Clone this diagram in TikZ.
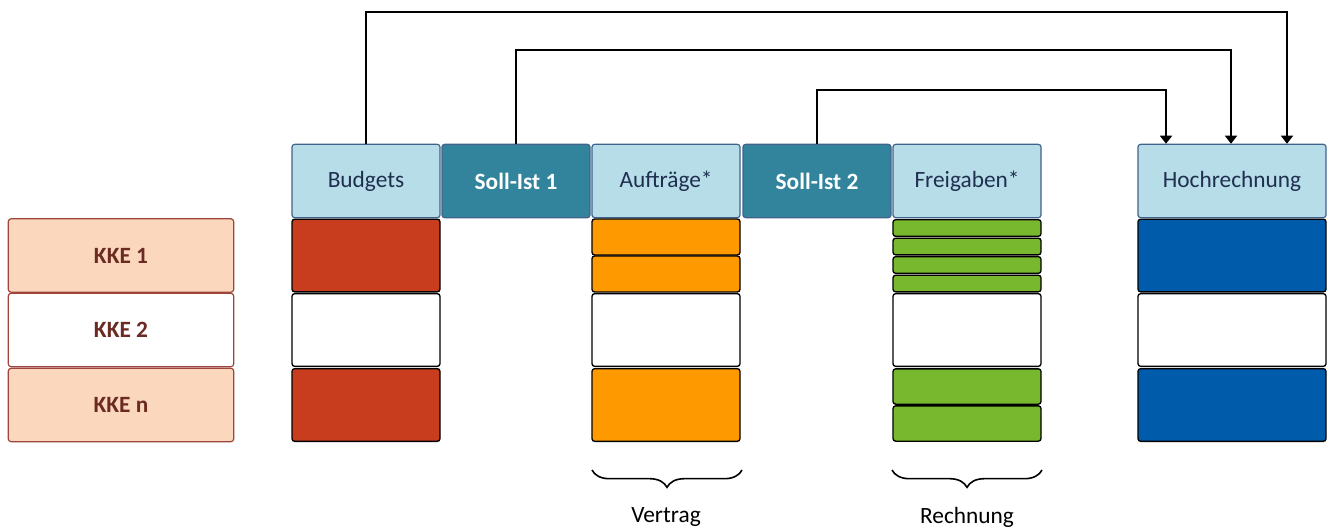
\documentclass[tikz,border=0pt]{standalone}
\usepackage{fontspec}
\setmainfont{Carlito}
\usepackage{xcolor}
\usepackage{tikz}
\usetikzlibrary{arrows.meta,decorations.pathreplacing}

\definecolor{kopfblau}{HTML}{B7DDE8}
\definecolor{kopfrand}{HTML}{41628A}
\definecolor{sollist}{HTML}{31849B}
\definecolor{kopftext}{HTML}{1F2F4F}
\definecolor{budrot}{HTML}{C73D1E}
\definecolor{auforange}{HTML}{FF9900}
\definecolor{freigruen}{HTML}{78B82F}
\definecolor{hochblau}{HTML}{005BAA}
\definecolor{kkefill}{HTML}{FBD8BD}
\definecolor{kkerand}{HTML}{A0453B}
\definecolor{kketext}{HTML}{6B2A22}

\tikzset{
	kopf/.style={draw=kopfrand, line width=0.9pt, fill=kopfblau, rounded corners=2pt,
		minimum width=111pt, minimum height=55pt, inner sep=0pt, text=kopftext,
		font=\fontsize{17.5}{20}\selectfont},
	soll/.style={kopf, fill=sollist, text=white, font=\fontsize{17.5}{20}\selectfont\bfseries},
	kke/.style={draw=kkerand, line width=0.9pt, fill=kkefill, rounded corners=2pt,
		minimum width=169pt, minimum height=55pt, inner sep=0pt, text=kketext,
		font=\fontsize{17.5}{20}\selectfont\bfseries},
	zelle/.style={draw=black, line width=1pt, rounded corners=2pt, minimum width=111pt, inner sep=0pt},
	pfeil/.style={line width=1.2pt, -{Triangle[width=9pt,length=6pt]}},
	klammer/.style={line width=1.2pt, decorate, decoration={brace,mirror,amplitude=13pt}},
	unter/.style={font=\fontsize{17.5}{20}\selectfont}
}

\begin{document}
\begin{tikzpicture}[x=0.75pt,y=-0.75pt]
	\useasboundingbox (0,0) rectangle (1327,529);
	
	% Kostenstellen links
	\node[kke] (kke1) at (121,255.5) {KKE 1};
	\node[kke,fill=white] (kke2) at (121,330) {KKE 2};
	\node[kke] (kken) at (121,405) {KKE n};
	
	% Kopfzeile
	\node[kopf] (bud) at (366,181) {Budgets};
	\node[soll] (soll1) at (516,181) {Soll-Ist 1};
	\node[kopf] (auf) at (666,181) {Aufträge*};
	\node[soll] (soll2) at (817,181) {Soll-Ist 2};
	\node[kopf] (frei) at (967,181) {Freigaben*};
	\node[kopf,minimum width=141pt] (hoch) at (1232,181) {Hochrechnung};
	
	% Budgets
	\foreach \y/\f [count=\i] in {255.5/budrot,330/white,405/budrot}
		\node[zelle,fill=\f,minimum height=54.5pt] (bud\i) at (366,\y) {};
	
	% Auftraege
	\foreach \y [count=\i] in {237,274}
		\node[zelle,fill=auforange,minimum height=27pt] (aufa\i) at (666,\y) {};
	\node[zelle,fill=white,minimum height=54.5pt] (aufb) at (666,330) {};
	\node[zelle,fill=auforange,minimum height=54.5pt] (aufc) at (666,405) {};
	
	% Freigaben
	\foreach \y [count=\i] in {228,246.5,265,283.5}
		\node[zelle,fill=freigruen,minimum height=12.5pt] (freia\i) at (967,\y) {};
	\node[zelle,fill=white,minimum height=54.5pt] (freib) at (967,330) {};
	\foreach \y [count=\i] in {386.5,423.5}
		\node[zelle,fill=freigruen,minimum height=26.5pt] (freic\i) at (967,\y) {};
	
	% Hochrechnung
	\foreach \y/\f [count=\i] in {255.5/hochblau,330/white,405/hochblau}
		\node[zelle,fill=\f,minimum width=141pt,minimum height=54.5pt] (hoch\i) at (1232,\y) {};
	
	% Verbindungen zur Hochrechnung
	\coordinate (t1) at (1287,12);
	\coordinate (t2) at (1231,50);
	\coordinate (t3) at (1166,90);
	\draw[pfeil] (bud.north) |- (t1) -- (t1 |- hoch.north);
	\draw[pfeil] (soll1.north) |- (t2) -- (t2 |- hoch.north);
	\draw[pfeil] (soll2.north) |- (t3) -- (t3 |- hoch.north);
	
	% Klammern
	\draw[klammer] (592,470) -- (742,470);
	\draw[klammer] (892,470) -- (1042,470);
	\node[unter] (vertrag) at (666,517) {Vertrag};
	\node[unter] (rechnung) at (967,517) {Rechnung};
	
\end{tikzpicture}
\end{document}
